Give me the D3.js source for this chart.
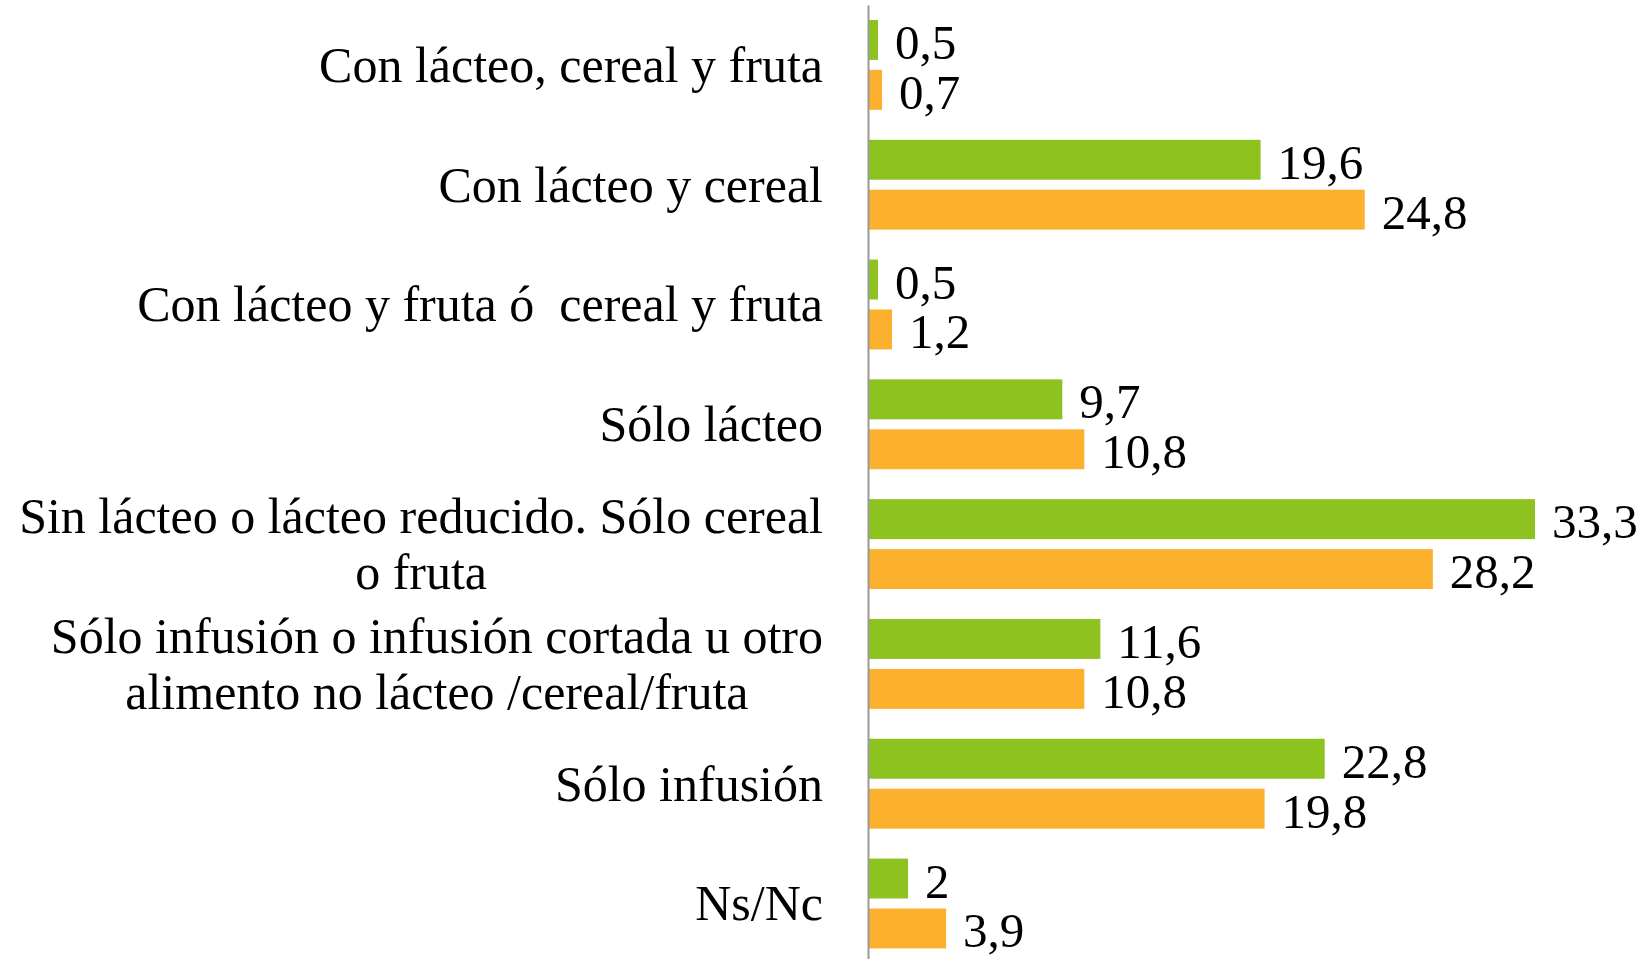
<!DOCTYPE html>
<html>
<head>
<meta charset="utf-8">
<script src="https://cdn.jsdelivr.net/npm/d3@7"></script>
<style>
  body { margin: 0; background: #fff; }
  text { font-family: "Liberation Serif", "DejaVu Serif", serif; fill: #000; }
</style>
</head>
<body>
<script>

// categories (\n marks where the label wraps)
var categories = [
  "Con lácteo, cereal y fruta",
  "Con lácteo y cereal",
  "Con lácteo y fruta ó  cereal y fruta",
  "Sólo lácteo",
  "Sin lácteo o lácteo reducido. Sólo cereal\no fruta",
  "Sólo infusión o infusión cortada u otro\nalimento no lácteo /cereal/fruta",
  "Sólo infusión",
  "Ns/Nc"
];

var seriesKeys = ["s1", "s2"];
var seriesA = [0.5, 19.6, 0.5, 9.7, 33.3, 11.6, 22.8, 2];
var seriesB = [0.7, 24.8, 1.2, 10.8, 28.2, 10.8, 19.8, 3.9];
var colors = ["#8dc21f", "#fbb02e"];

var width = 1644, height = 959;

var svg = d3.select("body").append("svg")
    .attr("width", width)
    .attr("height", height);

var x = d3.scaleLinear()
    .domain([0, 35])
    .range([868, 868 + 35 * 20.03]);

var y = d3.scaleBand()
    .domain(categories)
    .range([5, 963.4])
    .paddingInner(0.25)
    .paddingOuter(0.125);

var ySub = d3.scaleBand()
    .domain(seriesKeys)
    .range([0, y.bandwidth()])
    .paddingInner(0.2);

var rows = categories.map(function(c, i) {
  return {cat: c, vals: [seriesA[i], seriesB[i]]};
});

var fmt = function(v) { return String(v).replace(".", ","); };

var groups = svg.selectAll(".grp")
  .data(rows)
  .enter().append("g")
    .attr("class", "grp")
    .attr("transform", function(d) { return "translate(0," + y(d.cat) + ")"; });

groups.selectAll("rect")
  .data(function(d) { return d.vals.map(function(v, j) { return {k: seriesKeys[j], v: v, j: j}; }); })
  .enter().append("rect")
    .attr("x", x(0))
    .attr("y", function(d) { return ySub(d.k); })
    .attr("width", function(d) { return x(d.v) - x(0); })
    .attr("height", ySub.bandwidth())
    .attr("fill", function(d) { return colors[d.j]; });

groups.selectAll(".val")
  .data(function(d) { return d.vals.map(function(v, j) { return {k: seriesKeys[j], v: v}; }); })
  .enter().append("text")
    .attr("class", "val")
    .attr("x", function(d) { return x(d.v) + 17; })
    .attr("y", function(d) { return ySub(d.k) + ySub.bandwidth() / 2 + 19; })
    .style("font-size", "49px")
    .text(function(d) { return fmt(d.v); });

// axis line
svg.append("g")
    .attr("transform", "translate(" + x(0) + ",0)")
    .call(d3.axisLeft(y).tickSize(0).tickSizeOuter(0).tickFormat(""))
    .call(function(g) { g.select(".domain").attr("stroke", "#999").attr("stroke-width", 2); });

// category labels, multi-line blocks centred on their widest line
var labelRight = 823, lineH = 56;
groups.each(function(d) {
  var g = d3.select(this);
  var lines = d.cat.split("\n");
  var mid = y.bandwidth() / 2 + 17;
  var texts = lines.map(function(l, i) {
    return g.append("text")
      .attr("class", "cat")
      .style("font-size", "50px")
      .style("white-space", "pre")
      .attr("y", mid + (i - (lines.length - 1) / 2) * lineH)
      .text(l);
  });
  if (lines.length === 1) {
    texts[0].attr("x", labelRight).attr("text-anchor", "end");
  } else {
    var maxW = d3.max(texts, function(t) { return t.node().getComputedTextLength(); });
    texts.forEach(function(t) {
      t.attr("x", labelRight - maxW / 2).attr("text-anchor", "middle");
    });
  }
});

</script>
</body>
</html>
